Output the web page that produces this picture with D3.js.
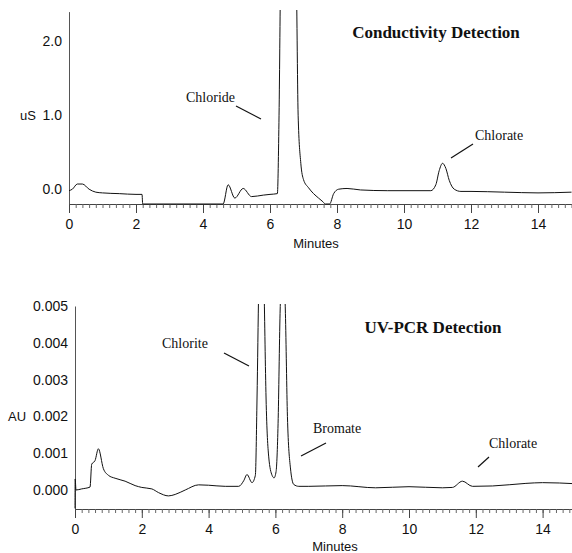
<!DOCTYPE html>
<html>
<head>
<meta charset="utf-8">
<script src="https://cdn.jsdelivr.net/npm/d3@7"></script>
<style>
  body { margin: 0; background: #fff; }
  svg { display: block; }
  .tick text { font-family: "Liberation Sans", Arial, sans-serif; font-size: 14px; fill: #111; }
  .lbl { font-family: "Liberation Sans", Arial, sans-serif; font-size: 13px; fill: #111; }
  .name { font-family: "Liberation Serif", "Times New Roman", serif; font-size: 14px; fill: #111; }
  .title { font-family: "Liberation Serif", "Times New Roman", serif; font-size: 17px; font-weight: bold; fill: #111; }
</style>
</head>
<body>
<script>
// conductivity trace, minutes vs uS
var condTime = [0, 0.1, 0.25, 0.4, 0.6, 0.8, 1.0, 1.5, 2.0, 2.18, 2.2, 4.6, 4.75, 4.95, 5.2, 5.45, 5.8, 6.0, 6.22,
  6.27, 6.32, 6.5, 6.78, 6.84, 6.92, 7.0, 7.15, 7.3, 7.45, 7.58, 7.65, 7.78, 7.9, 8.05, 8.3, 8.7, 9.5, 10.8,
  10.95, 11.05, 11.15, 11.25, 11.35, 11.5, 11.7, 12, 13, 14, 15];
var condValue = [-0.02, 0.0, 0.07, 0.07, 0.0, -0.04, -0.05, -0.06, -0.07, -0.07, -0.2, -0.2, 0.06, -0.12, 0.01, -0.1, -0.08, -0.07, -0.06,
  1.0, 3.0, 5.0, 3.0, 1.0, 0.35, 0.13, 0.02, -0.06, -0.12, -0.17, -0.2, -0.2, -0.06, 0.0, 0.01, -0.01, -0.02, -0.02,
  0.06, 0.25, 0.35, 0.28, 0.12, 0.0, -0.03, -0.03, -0.04, -0.05, -0.04];

// UV-PCR trace, minutes vs AU
var uvTime = [0, 0.005, 0.03, 0.2, 0.45, 0.5, 0.6, 0.7, 0.85, 1.0, 1.2, 1.5, 1.8, 2.0, 2.3, 2.5, 2.8, 3.0, 3.3, 3.7, 4.0, 4.5, 4.9,
  5.05, 5.15, 5.3, 5.4, 5.45, 5.5, 5.58, 5.66, 5.72, 5.8, 5.9, 5.96, 6.02, 6.08, 6.14, 6.22, 6.3, 6.36, 6.45, 6.55, 6.7,
  7, 8, 9, 10, 11, 11.3, 11.6, 11.9, 12.5, 13.5, 14, 15];
var uvValue = [-0.0005, 0.0003, 0.0, 0.00003, 0.00008, 0.0007, 0.0008, 0.00112, 0.00058, 0.0004, 0.00032, 0.00024, 0.00012, 0.00007, 0.00003, -0.00007, -0.00016, -0.00012, 0.0, 0.00014, 0.00013, 0.0001, 0.0001,
  0.00025, 0.00042, 0.0002, 0.0004, 0.0025, 0.0055, 0.008, 0.0055, 0.0025, 0.0009, 0.0004, 0.00033, 0.0005, 0.0018, 0.0048, 0.0065, 0.0048, 0.002, 0.0006, 0.00015, 0.0001,
  0.0001, 0.00012, 0.00006, 0.00009, 0.00006, 0.00007, 0.00024, 0.0001, 0.00011, 0.00018, 0.0002, 0.00017];

var condTicks = [0, 1, 2];
var uvTicks = [0, 0.001, 0.002, 0.003, 0.004, 0.005];
var minuteTicks = [0, 2, 4, 6, 8, 10, 12, 14];
var minorTicks = d3.range(0, 15.01, 0.2);

var condLabels = [
  { text: 'Chloride', x: 186, y: 102, line: [236, 106, 261, 119] },
  { text: 'Chlorate', x: 475, y: 140, line: [473, 144, 451, 158] }
];
var uvLabels = [
  { text: 'Chlorite', x: 162, y: 348, line: [224, 353, 249, 366] },
  { text: 'Bromate', x: 313, y: 433, line: [326, 443, 301, 456] },
  { text: 'Chlorate', x: 489, y: 448, line: [489, 457, 478, 467] }
];

var svg = d3.select('body').append('svg').attr('width', 572).attr('height', 553);

function panel(opts) {
  var g = svg.append('g');
  var x = d3.scaleLinear().domain([0, 15]).range(opts.xRange);
  var y = d3.scaleLinear().domain(opts.yDomain).range(opts.yRange);

  var clipId = 'clip' + opts.id;
  svg.append('clipPath').attr('id', clipId)
    .append('rect')
    .attr('x', opts.xRange[0] - 2).attr('y', opts.clipTop)
    .attr('width', 600).attr('height', opts.yRange[0] - opts.clipTop + 2);

  // minor ticks
  g.append('g')
    .attr('transform', 'translate(0,' + opts.yRange[0] + ')')
    .call(d3.axisBottom(x).tickValues(minorTicks).tickSize(4).tickFormat('').tickSizeOuter(0))
    .call(function(s) { s.select('.domain').attr('stroke', '#444'); s.selectAll('.tick line').attr('stroke', '#666'); });

  // major ticks with labels
  g.append('g')
    .attr('transform', 'translate(0,' + opts.yRange[0] + ')')
    .call(d3.axisBottom(x).tickValues(minuteTicks).tickSize(9).tickPadding(6).tickFormat(d3.format('d')).tickSizeOuter(0))
    .call(function(s) { s.select('.domain').remove(); s.selectAll('.tick line').attr('stroke', '#444'); });

  g.append('g')
    .attr('transform', 'translate(' + opts.xRange[0] + ',0)')
    .call(d3.axisLeft(y).tickValues(opts.yTicks).tickSize(0).tickPadding(7).tickFormat(d3.format(opts.yFormat)).tickSizeOuter(0))
    .call(function(s) { s.select('.domain').attr('stroke', '#555'); });

  g.append('text').attr('class', 'lbl')
    .attr('x', opts.unitX).attr('y', y(opts.unitAt)).attr('dy', '0.35em')
    .text(opts.unit);

  g.append('text').attr('class', 'lbl')
    .attr('x', opts.minutesX).attr('y', opts.minutesY).attr('text-anchor', 'middle')
    .text('Minutes');

  var line = d3.line()
    .x(function(d) { return x(d[0]); })
    .y(function(d) { return y(d[1]); })
    .curve(d3.curveMonotoneX);

  g.append('path')
    .datum(d3.zip(opts.time, opts.value))
    .attr('clip-path', 'url(#' + clipId + ')')
    .attr('fill', 'none')
    .attr('stroke', '#111')
    .attr('stroke-width', 1)
    .attr('d', line);

  g.append('text').attr('class', 'title')
    .attr('x', opts.titleX).attr('y', opts.titleY).attr('text-anchor', 'middle')
    .text(opts.title);

  opts.labels.forEach(function(l) {
    g.append('text').attr('class', 'name').attr('x', l.x).attr('y', l.y).text(l.text);
    g.append('line')
      .attr('x1', l.line[0]).attr('y1', l.line[1])
      .attr('x2', l.line[2]).attr('y2', l.line[3])
      .attr('stroke', '#111').attr('stroke-width', 1.2);
  });
}

panel({
  id: 'top',
  xRange: [69, 571.5],
  yDomain: [-0.2, 2.4],
  yRange: [204, 11.6],
  clipTop: 10,
  yTicks: condTicks,
  yFormat: '.1f',
  unit: 'uS', unitX: 20, unitAt: 1.0,
  minutesX: 316, minutesY: 248,
  time: condTime, value: condValue,
  title: 'Conductivity Detection', titleX: 436, titleY: 38,
  labels: condLabels
});

panel({
  id: 'bottom',
  xRange: [75, 576],
  yDomain: [-0.000516, 0.005],
  yRange: [509, 306],
  clipTop: 304,
  yTicks: uvTicks,
  yFormat: '.3f',
  unit: 'AU', unitX: 8, unitAt: 0.002,
  minutesX: 335, minutesY: 551,
  time: uvTime, value: uvValue,
  title: 'UV-PCR Detection', titleX: 433, titleY: 333,
  labels: uvLabels
});
</script>
</body>
</html>
